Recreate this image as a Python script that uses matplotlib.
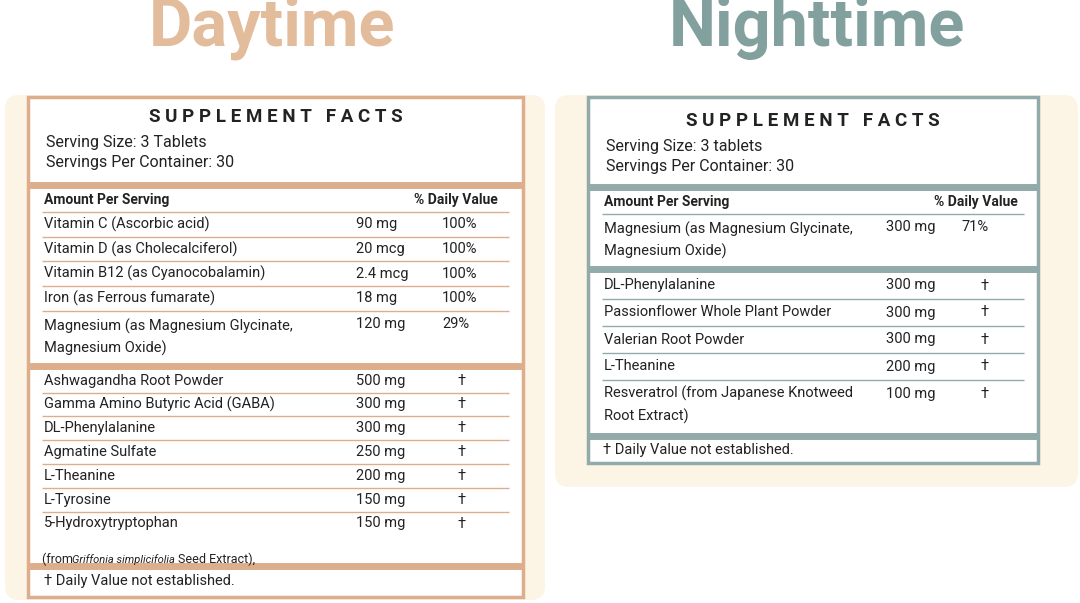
import matplotlib
matplotlib.use("Agg")
import matplotlib.pyplot as plt
from matplotlib.patches import FancyBboxPatch, Rectangle

plt.rcParams['font.family'] = ['Roboto', 'DejaVu Sans']

# --- data ---
day_top = [("Vitamin C (Ascorbic acid)", "90 mg", "100%"),
           ("Vitamin D (as Cholecalciferol)", "20 mcg", "100%"),
           ("Vitamin B12 (as Cyanocobalamin)", "2.4 mcg", "100%"),
           ("Iron (as Ferrous fumarate)", "18 mg", "100%"),
           ("Magnesium (as Magnesium Glycinate,\nMagnesium Oxide)", "120 mg", "29%")]
day_bottom = [("Ashwagandha Root Powder", "500 mg"),
              ("Gamma Amino Butyric Acid (GABA)", "300 mg"),
              ("DL-Phenylalanine", "300 mg"),
              ("Agmatine Sulfate", "250 mg"),
              ("L-Theanine", "200 mg"),
              ("L-Tyrosine", "150 mg"),
              ("5-Hydroxytryptophan", "150 mg")]
night_top = [("Magnesium (as Magnesium Glycinate,\nMagnesium Oxide)", "300 mg", "71%")]
night_bottom = [("DL-Phenylalanine", "300 mg"),
                ("Passionflower Whole Plant Powder", "300 mg"),
                ("Valerian Root Powder", "300 mg"),
                ("L-Theanine", "200 mg"),
                ("Resveratrol (from Japanese Knotweed\nRoot Extract)", "100 mg")]

DAY_C = "#e3bc9c"
NIGHT_C = "#82a09e"
DAY_B = "#dcae8c"
NIGHT_B = "#93aaab"
CREAM = "#fcf4e5"
TXT = "#222222"

fig = plt.figure(figsize=(10.8, 6.03), dpi=100)
ax = fig.add_axes([0, 0, 1, 1])
ax.set_xlim(0, 1080)
ax.set_ylim(603, 0)
ax.axis("off")

ax.text(272, 28, "Daytime", color=DAY_C, fontsize=48, fontweight="bold",
        ha="center", va="center")
ax.text(817, 28, "Nighttime", color=NIGHT_C, fontsize=48, fontweight="bold",
        ha="center", va="center")


def hline(x0, x1, y, c, lw):
    ax.plot([x0, x1], [y, y], color=c, lw=lw, solid_capstyle="butt")


def panel(px0, px1, py0, py1, bx0, bx1, by1, border, title_y, serv_y, size_txt,
          head_line, top_rows, bottom_rows, amt_x, dv_x, dag_x, top_h, bot_h):
    ax.add_patch(FancyBboxPatch((px0, py0), px1 - px0, py1 - py0,
                                boxstyle="round,pad=0,rounding_size=14",
                                fc=CREAM, ec="none"))
    ax.add_patch(Rectangle((bx0, py0 + 2), bx1 - bx0, by1 - py0 - 2,
                           fc="white", ec=border, lw=2.5))
    tx = bx0 + 16
    ax.text((bx0 + bx1) / 2, title_y, "S U P P L E M E N T   F A C T S",
            fontsize=13.5, fontweight="bold", ha="center", va="center",
            color=TXT)
    ax.text(tx + 2, serv_y, f"Serving Size: {size_txt}", fontsize=11.5,
            va="center", color=TXT)
    ax.text(tx + 2, serv_y + 20, "Servings Per Container: 30", fontsize=11.5,
            va="center", color=TXT)
    y = head_line
    hline(bx0, bx1, y, border, 5)
    y += 15
    ax.text(tx, y, "Amount Per Serving", fontsize=10, fontweight="bold",
            va="center", color=TXT)
    ax.text(dv_x - 28, y, "% Daily Value", fontsize=10, fontweight="bold",
            va="center", color=TXT)
    y += 12
    for name, amt, dv in top_rows:
        hline(tx - 2, bx1 - 14, y, border, 1)
        two = "\n" in name
        h = 53 if two else top_h
        ax.text(tx, y + h / 2, name, fontsize=10.5, va="center",
                linespacing=1.6, color=TXT)
        ax.text(amt_x, y + (13 if two else h / 2), amt, fontsize=10.5,
                va="center", color=TXT)
        ax.text(dv_x, y + (13 if two else h / 2), dv, fontsize=10.5,
                va="center", color=TXT)
        y += h
    y += 2
    hline(bx0, bx1, y, border, 5)
    y += 3
    for i, (name, amt) in enumerate(bottom_rows):
        if i:
            hline(tx - 2, bx1 - 14, y, border, 1)
        two = "\n" in name
        h = 50 if two else bot_h
        ax.text(tx, y + h / 2, name, fontsize=10.5, va="center",
                linespacing=1.6, color=TXT)
        ax.text(amt_x, y + (14 if two else h / 2), amt, fontsize=10.5,
                va="center", color=TXT)
        ax.text(dag_x, y + (14 if two else h / 2), "†", fontsize=10.5,
                va="center", color=TXT)
        y += h
    return y


# daytime panel
y = panel(5, 545, 95, 600, 28, 523, 597, DAY_B, 117, 143, "3 Tablets",
          185, day_top, day_bottom, 356, 442, 457, 24.7, 23.8)
ax.text(42, y + 24, "(from ", fontsize=9, va="center", color=TXT)
ax.text(72, y + 24, "Griffonia simplicifolia", fontsize=8, style="italic",
        va="center", color=TXT)
ax.text(178, y + 24, "Seed Extract),", fontsize=9, va="center", color=TXT)
hline(28, 523, 566, DAY_B, 5)
ax.text(44, 581, "† Daily Value not established.", fontsize=10.5, va="center",
        color=TXT)

# nighttime panel
y = panel(555, 1078, 95, 487, 588, 1038, 463, NIGHT_B, 121, 147, "3 tablets",
          187, night_top, night_bottom, 886, 962, 980, 24.7, 27)
hline(588, 1038, 436, NIGHT_B, 5)
ax.text(603, 450, "† Daily Value not established.", fontsize=10.5,
        va="center", color=TXT)

fig.savefig("out.png", dpi=100)
